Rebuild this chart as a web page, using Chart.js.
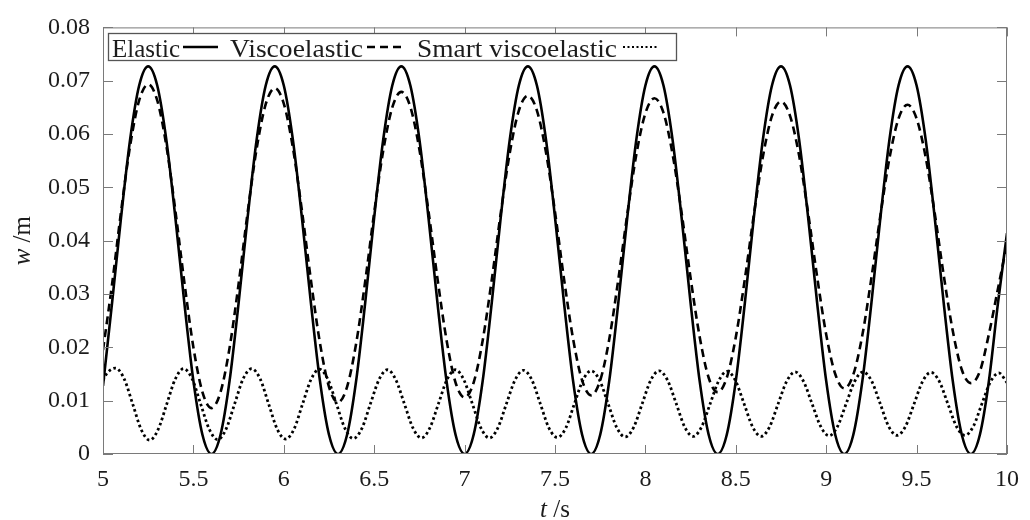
<!DOCTYPE html>
<html>
<head>
<meta charset="utf-8">
<script src="https://cdn.jsdelivr.net/npm/chart.js@4.4.1/dist/chart.umd.min.js"></script>
<style>
  html, body { margin: 0; padding: 0; background: #fff; }
  #wrap { width: 1030px; height: 520px; }
</style>
</head>
<body>
<div id="wrap"><canvas id="respChart" width="1030" height="520"></canvas></div>
<script>
"use strict"

// time grid (s) shared by elastic and viscoelastic curves
const tGrid = [
    5.00, 5.05, 5.10, 5.15, 5.20, 5.25, 5.30, 5.35, 5.40, 5.45,
    5.50, 5.55, 5.60, 5.65, 5.70, 5.75, 5.80, 5.85, 5.90, 5.95,
    6.00, 6.05, 6.10, 6.15, 6.20, 6.25, 6.30, 6.35, 6.40, 6.45,
    6.50, 6.55, 6.60, 6.65, 6.70, 6.75, 6.80, 6.85, 6.90, 6.95,
    7.00, 7.05, 7.10, 7.15, 7.20, 7.25, 7.30, 7.35, 7.40, 7.45,
    7.50, 7.55, 7.60, 7.65, 7.70, 7.75, 7.80, 7.85, 7.90, 7.95,
    8.00, 8.05, 8.10, 8.15, 8.20, 8.25, 8.30, 8.35, 8.40, 8.45,
    8.50, 8.55, 8.60, 8.65, 8.70, 8.75, 8.80, 8.85, 8.90, 8.95,
    9.00, 9.05, 9.10, 9.15, 9.20, 9.25, 9.30, 9.35, 9.40, 9.45,
    9.50, 9.55, 9.60, 9.65, 9.70, 9.75, 9.80, 9.85, 9.90, 9.95,
    10.00
]

// deflection w (m), elastic plate
const wElastic = [
    0.0128, 0.0283, 0.0444, 0.0590, 0.0691, 0.0727, 0.0691, 0.0590, 0.0444, 0.0283,
    0.0137, 0.0036, 0.0000, 0.0036, 0.0137, 0.0283, 0.0444, 0.0590, 0.0691, 0.0727,
    0.0691, 0.0590, 0.0444, 0.0283, 0.0137, 0.0036, 0.0000, 0.0036, 0.0137, 0.0283,
    0.0444, 0.0590, 0.0691, 0.0727, 0.0691, 0.0590, 0.0444, 0.0283, 0.0137, 0.0036,
    0.0000, 0.0036, 0.0137, 0.0283, 0.0444, 0.0590, 0.0691, 0.0727, 0.0691, 0.0590,
    0.0444, 0.0283, 0.0137, 0.0036, 0.0000, 0.0036, 0.0137, 0.0283, 0.0444, 0.0590,
    0.0691, 0.0727, 0.0691, 0.0590, 0.0444, 0.0283, 0.0137, 0.0036, 0.0000, 0.0036,
    0.0137, 0.0283, 0.0444, 0.0590, 0.0691, 0.0727, 0.0691, 0.0590, 0.0444, 0.0283,
    0.0137, 0.0036, 0.0000, 0.0036, 0.0137, 0.0283, 0.0444, 0.0590, 0.0691, 0.0727,
    0.0691, 0.0590, 0.0444, 0.0283, 0.0137, 0.0036, 0.0000, 0.0036, 0.0137, 0.0283,
    0.0414
]

// deflection w (m), viscoelastic plate
const wViscoelastic = [
    0.0195, 0.0318, 0.0455, 0.0578, 0.0663, 0.0693, 0.0663, 0.0579, 0.0457, 0.0322,
    0.0200, 0.0116, 0.0086, 0.0116, 0.0199, 0.0319, 0.0453, 0.0573, 0.0656, 0.0686,
    0.0657, 0.0575, 0.0457, 0.0326, 0.0208, 0.0126, 0.0097, 0.0126, 0.0207, 0.0323,
    0.0453, 0.0569, 0.0650, 0.0679, 0.0651, 0.0571, 0.0456, 0.0329, 0.0214, 0.0134,
    0.0106, 0.0134, 0.0213, 0.0326, 0.0452, 0.0565, 0.0644, 0.0672, 0.0644, 0.0566,
    0.0454, 0.0328, 0.0216, 0.0138, 0.0110, 0.0138, 0.0215, 0.0327, 0.0450, 0.0562,
    0.0639, 0.0667, 0.0640, 0.0563, 0.0453, 0.0330, 0.0220, 0.0143, 0.0116, 0.0143,
    0.0219, 0.0328, 0.0449, 0.0558, 0.0634, 0.0661, 0.0634, 0.0560, 0.0452, 0.0332,
    0.0224, 0.0150, 0.0123, 0.0149, 0.0223, 0.0330, 0.0448, 0.0555, 0.0629, 0.0655,
    0.0629, 0.0557, 0.0452, 0.0335, 0.0231, 0.0158, 0.0133, 0.0155, 0.0225, 0.0310,
    0.0395
]

// smart viscoelastic plate, own time points (s)
const tSmart = [
    5.000, 5.023,
    5.070, 5.117, 5.164, 5.211, 5.258, 5.305, 5.352, 5.399,
    5.446, 5.493, 5.540, 5.587, 5.634, 5.681, 5.728, 5.775,
    5.822, 5.869, 5.916, 5.963, 6.010, 6.057, 6.104, 6.151,
    6.197, 6.244, 6.291, 6.338, 6.385, 6.432, 6.479, 6.526,
    6.573, 6.620, 6.667, 6.714, 6.761, 6.808, 6.855, 6.902,
    6.949, 6.996, 7.043, 7.090, 7.137, 7.184, 7.231, 7.278,
    7.325, 7.372, 7.419, 7.466, 7.513, 7.560, 7.607, 7.654,
    7.700, 7.747, 7.794, 7.841, 7.888, 7.935, 7.982, 8.029,
    8.076, 8.123, 8.170, 8.217, 8.264, 8.311, 8.358, 8.405,
    8.452, 8.499, 8.546, 8.593, 8.640, 8.687, 8.734, 8.781,
    8.828, 8.875, 8.922, 8.969, 9.016, 9.063, 9.110, 9.157,
    9.204, 9.251, 9.298, 9.345, 9.392, 9.439, 9.486, 9.533,
    9.579, 9.626, 9.673, 9.720, 9.767, 9.814, 9.861, 9.908,
    9.955, 10.000
]

const wSmart = [
    0.0138, 0.0152,
    0.0161, 0.0141, 0.0094, 0.0046, 0.0026, 0.0046, 0.0093, 0.0140,
    0.0160, 0.0141, 0.0094, 0.0047, 0.0027, 0.0047, 0.0094, 0.0141,
    0.0160, 0.0141, 0.0094, 0.0047, 0.0028, 0.0047, 0.0094, 0.0140,
    0.0159, 0.0140, 0.0094, 0.0048, 0.0029, 0.0048, 0.0094, 0.0139,
    0.0158, 0.0139, 0.0094, 0.0049, 0.0030, 0.0049, 0.0094, 0.0139,
    0.0158, 0.0139, 0.0094, 0.0049, 0.0030, 0.0049, 0.0094, 0.0138,
    0.0157, 0.0139, 0.0094, 0.0049, 0.0031, 0.0049, 0.0094, 0.0138,
    0.0156, 0.0138, 0.0094, 0.0050, 0.0032, 0.0050, 0.0094, 0.0138,
    0.0156, 0.0138, 0.0095, 0.0051, 0.0033, 0.0051, 0.0094, 0.0137,
    0.0155, 0.0137, 0.0094, 0.0051, 0.0033, 0.0051, 0.0094, 0.0136,
    0.0154, 0.0136, 0.0094, 0.0052, 0.0034, 0.0052, 0.0094, 0.0136,
    0.0154, 0.0137, 0.0095, 0.0052, 0.0035, 0.0052, 0.0094, 0.0136,
    0.0153, 0.0136, 0.0094, 0.0052, 0.0035, 0.0052, 0.0094, 0.0135,
    0.0152, 0.0134
]

const seriesNames = ['Elastic', 'Viscoelastic', 'Smart viscoelastic']
const seriesDash = [[], [8, 5], [2.6, 2.8]]
const seriesWidth = [2.6, 2.6, 2.8]

const xTicks = [5, 5.5, 6, 6.5, 7, 7.5, 8, 8.5, 9, 9.5, 10]
const yTicks = [0, 0.01, 0.02, 0.03, 0.04, 0.05, 0.06, 0.07, 0.08]

const serif = '"Liberation Serif", "Times New Roman", "DejaVu Serif", serif'
const ink = '#1c1c1c'
const frameGray = '#7a7a7a'

// legend geometry (px): label start, label width, sample start, sample end
const legendItems = [
    { x: 112, w: 68, s0: 183, s1: 218 },
    { x: 230, w: 133, s0: 367, s1: 403 },
    { x: 417, w: 200, s0: 623, s1: 658 }
]
const legendBox = { left: 108, top: 33, right: 676, bottom: 60 }

function toPoints(ts, ws) {
    return ts.map((t, i) => ({ x: t, y: ws[i] }))
}

// frame with inward ticks, custom legend (label before sample) and mixed italic axis titles
const decorPlugin = {
    id: 'decor',
    afterDraw(chart) {
        const ctx = chart.ctx
        const a = chart.chartArea
        const xs = chart.scales.x
        const ys = chart.scales.y
        ctx.save()

        ctx.strokeStyle = frameGray
        ctx.lineWidth = 1
        ctx.strokeRect(a.left + 0.5, a.top + 0.5, a.right - a.left - 1, a.bottom - a.top - 1)
        ctx.beginPath()
        xTicks.forEach(v => {
            const px = Math.round(xs.getPixelForValue(v)) + 0.5
            ctx.moveTo(px, a.bottom); ctx.lineTo(px, a.bottom - 9)
            ctx.moveTo(px, a.top); ctx.lineTo(px, a.top + 9)
        })
        yTicks.forEach(v => {
            const py = Math.round(ys.getPixelForValue(v)) + 0.5
            ctx.moveTo(a.left, py); ctx.lineTo(a.left + 10, py)
            ctx.moveTo(a.right, py); ctx.lineTo(a.right - 10, py)
        })
        ctx.stroke()

        // legend box
        const b = legendBox
        ctx.fillStyle = '#fff'
        ctx.fillRect(b.left, b.top, b.right - b.left, b.bottom - b.top)
        ctx.strokeStyle = '#555'
        ctx.lineWidth = 1.3
        ctx.strokeRect(b.left + 0.5, b.top + 0.5, b.right - b.left, b.bottom - b.top)
        ctx.font = '26px ' + serif
        ctx.textBaseline = 'alphabetic'
        const baseY = 57
        const lineY = 47
        legendItems.forEach((it, i) => {
            const w = ctx.measureText(seriesNames[i]).width
            ctx.save()
            ctx.translate(it.x, baseY)
            ctx.scale(it.w / w, 1)
            ctx.fillStyle = ink
            ctx.fillText(seriesNames[i], 0, 0)
            ctx.restore()
            ctx.beginPath()
            ctx.setLineDash(i === 2 ? [2, 2.5] : seriesDash[i])
            ctx.strokeStyle = '#000'
            ctx.lineWidth = i === 2 ? 2.2 : 2.6
            ctx.moveTo(it.s0, lineY)
            ctx.lineTo(it.s1, lineY)
            ctx.stroke()
            ctx.setLineDash([])
        })

        // axis titles
        ctx.fillStyle = ink
        const italic = 'italic 25px ' + serif
        const upright = '25px ' + serif
        ctx.font = italic
        const tw = ctx.measureText('t').width
        ctx.font = upright
        const sw = ctx.measureText(' /s').width
        const xc = (a.left + a.right) / 2
        ctx.font = italic
        ctx.fillText('t', xc - (tw + sw) / 2, 517)
        ctx.font = upright
        ctx.fillText(' /s', xc - (tw + sw) / 2 + tw, 517)

        ctx.translate(30, (a.top + a.bottom) / 2)
        ctx.rotate(-Math.PI / 2)
        ctx.font = italic
        const ww = ctx.measureText('w').width
        ctx.font = upright
        const mw = ctx.measureText(' /m').width
        ctx.font = italic
        ctx.fillText('w', -(ww + mw) / 2, 0)
        ctx.font = upright
        ctx.fillText(' /m', -(ww + mw) / 2 + ww, 0)
        ctx.restore()
    }
}

const ctx = document.getElementById('respChart')
const myChart = new Chart(ctx, {
    type: 'line',
    data: {
        datasets: [
            {
                label: seriesNames[0],
                data: toPoints(tGrid, wElastic),
                borderColor: '#000',
                borderWidth: seriesWidth[0],
                borderDash: seriesDash[0],
            },
            {
                label: seriesNames[1],
                data: toPoints(tGrid, wViscoelastic),
                borderColor: '#000',
                borderWidth: seriesWidth[1],
                borderDash: seriesDash[1],
            },
            {
                label: seriesNames[2],
                data: toPoints(tSmart, wSmart),
                borderColor: '#000',
                borderWidth: seriesWidth[2],
                borderDash: seriesDash[2],
            }
        ]
    },
    options: {
        responsive: false,
        animation: false,
        events: [],
        elements: {
            point: { radius: 0 },
            line: { cubicInterpolationMode: 'monotone', fill: false }
        },
        layout: { padding: { top: 27, right: 11, left: 0, bottom: 0 } },
        plugins: {
            legend: { display: false },
            tooltip: { enabled: false },
            title: { display: false }
        },
        scales: {
            x: {
                type: 'linear',
                min: 5,
                max: 10,
                afterBuildTicks: s => { s.ticks = xTicks.map(v => ({ value: v })) },
                afterFit: s => { s.height = 66 },
                grid: { display: false, drawTicks: false },
                border: { display: false },
                ticks: {
                    padding: 11,
                    color: ink,
                    font: { family: serif, size: 24 },
                    maxRotation: 0,
                    callback: v => String(v)
                }
            },
            y: {
                type: 'linear',
                min: 0,
                max: 0.08,
                afterBuildTicks: s => { s.ticks = yTicks.map(v => ({ value: v })) },
                afterFit: s => { s.width = 103 },
                grid: { display: false, drawTicks: false },
                border: { display: false },
                ticks: {
                    padding: 13,
                    color: ink,
                    font: { family: serif, size: 24 },
                    callback: v => (v === 0 ? '0' : v.toFixed(2))
                }
            }
        }
    },
    plugins: [decorPlugin]
})
</script>
</body>
</html>
